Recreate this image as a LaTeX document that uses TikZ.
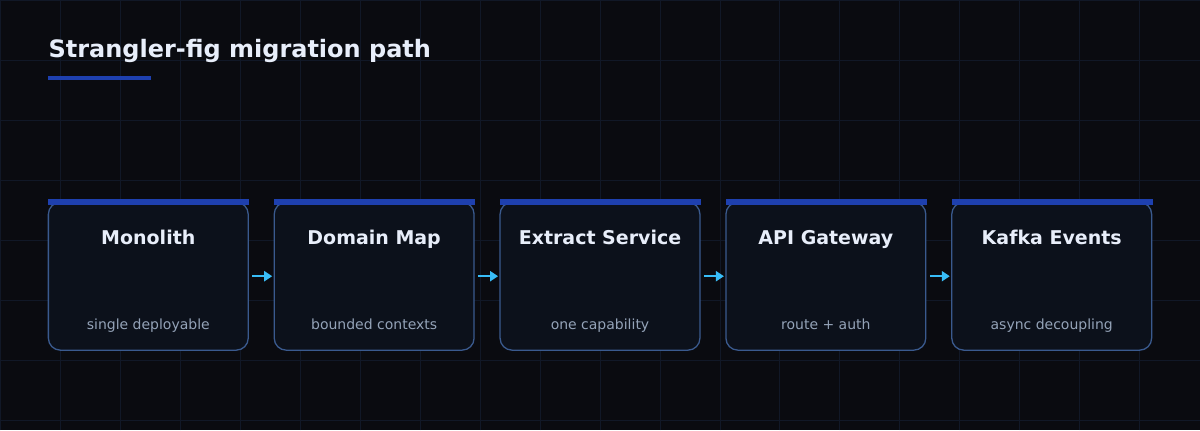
\documentclass[tikz,border=0pt]{standalone}
\usepackage{fontspec}
\setmainfont{DejaVu Sans}
\usetikzlibrary{positioning,arrows.meta}

\definecolor{bgdark}{HTML}{0A0B10}
\definecolor{gridline}{HTML}{111827}
\definecolor{boxfill}{HTML}{0C111B}
\definecolor{boxedge}{HTML}{3A5A8E}
\definecolor{barblue}{HTML}{1E40AF}
\definecolor{headtext}{HTML}{E8EEFA}
\definecolor{subtext}{HTML}{94A3B8}
\definecolor{flowcyan}{HTML}{38BDF8}

\tikzset{
  stage/.style={draw=boxedge, line width=1.3pt, fill=boxfill, rounded corners=12pt,
    minimum width=200pt, minimum height=148pt, outer sep=0pt, inner sep=0pt},
  stagetitle/.style={anchor=base, text=headtext, font=\bfseries\fontsize{19}{22}\selectfont},
  stagesub/.style={anchor=base, text=subtext, font=\fontsize{14}{17}\selectfont},
  flow/.style={draw=flowcyan, line width=2.5pt, -{Triangle[length=8pt,width=10pt]},
    shorten <=4pt, shorten >=2pt},
}

\begin{document}
\begin{tikzpicture}[x=1pt, y=1pt, node distance=226pt]
  % background and grid
  \fill[bgdark] (0,0) rectangle (1200,430);
  \foreach \gx in {0,60,...,1140}
    \draw[gridline, line width=0.8pt] (\gx,0) -- (\gx,430);
  \foreach \gy in {10,70,...,430}
    \draw[gridline, line width=0.8pt] (0,\gy) -- (1200,\gy);
  \useasboundingbox (0,0) rectangle (1200,430);

  % heading
  \node (head) [anchor=base west, inner sep=0pt, text=headtext,
    font=\bfseries\fontsize{24}{29}\selectfont] at (48,373) {Strangler-fig migration path};
  \fill[barblue] (48,350) rectangle (151,354);

  % stages
  \node (mono) [stage] at (148,154) {};
  \node (dmap) [stage, right of=mono] {};
  \node (extract) [stage, right of=dmap] {};
  \node (gate) [stage, right of=extract] {};
  \node (kafka) [stage, right of=gate] {};

  \foreach \s/\t/\d in {mono/Monolith/single deployable,
                        dmap/Domain Map/bounded contexts,
                        extract/Extract Service/one capability,
                        gate/API Gateway/route + auth,
                        kafka/Kafka Events/async decoupling} {
    \fill[barblue] ([yshift=-3pt]\s.north west) rectangle ([xshift=1pt,yshift=3pt]\s.north east);
    \node (\s-t) [stagetitle] at ([yshift=-42pt]\s.north) {\t};
    \node (\s-d) [stagesub] at ([yshift=21pt]\s.south) {\d};
  }

  \draw [flow] (mono) -- (dmap);
  \draw [flow] (dmap) -- (extract);
  \draw [flow] (extract) -- (gate);
  \draw [flow] (gate) -- (kafka);
\end{tikzpicture}
\end{document}
